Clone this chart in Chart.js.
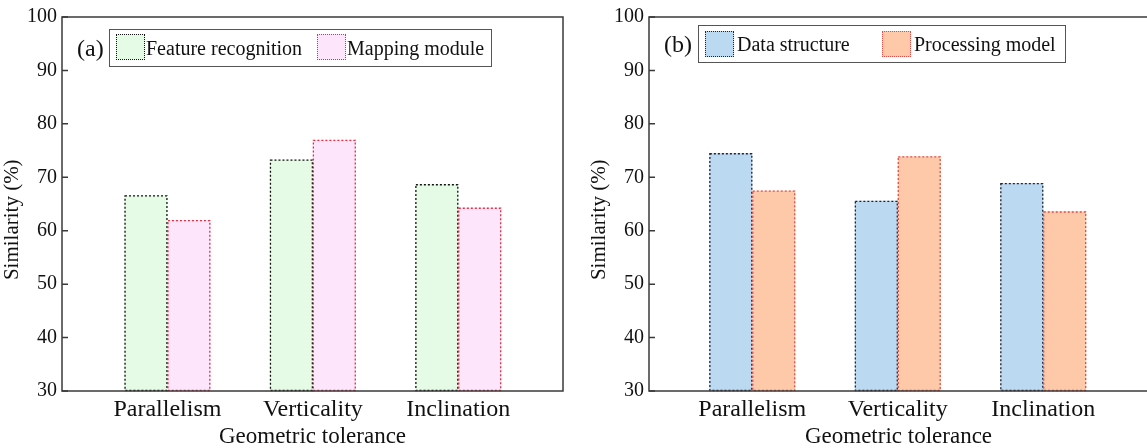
<!DOCTYPE html>
<html>
<head>
<meta charset="utf-8">
<script src="https://cdn.jsdelivr.net/npm/chart.js@4.4.1/dist/chart.umd.min.js"></script>
<style>
  html, body { margin: 0; padding: 0; background: #fff; }
  body { width: 1147px; height: 448px; position: relative; overflow: hidden; font-family: "Liberation Serif", "Times New Roman", serif; }
  canvas { position: absolute; top: 0; }
  #chartA { left: 0; }
  #chartB { left: 587px; }
  .panel { position: absolute; font-size: 24px; color: #111; line-height: 1; }
  .legend { position: absolute; border: 1.5px solid #555; box-sizing: border-box; background: #fff; }
  .swatch { position: absolute; width: 29px; height: 26px; box-sizing: border-box; border: 1.3px dotted; }
  .ltext { position: absolute; font-size: 20px; line-height: 1; color: #111; white-space: nowrap; }
</style>
</head>
<body>
<canvas id="chartA" width="566" height="448"></canvas>
<canvas id="chartB" width="561" height="448"></canvas>

<div class="panel" style="left:77px; top:36px;">(a)</div>
<div class="legend" style="left:109px; top:29px; width:383px; height:38px;"></div>
<div class="swatch" style="left:116px; top:34px; background:#e6fbe6; border-color:#111;"></div>
<div class="ltext" style="left:146px; top:38px;">Feature recognition</div>
<div class="swatch" style="left:317px; top:34px; background:#fde6fb; border-color:#e03040;"></div>
<div class="ltext" style="left:347px; top:38px;">Mapping module</div>

<div class="panel" style="left:664px; top:32px;">(b)</div>
<div class="legend" style="left:698px; top:25px; width:368px; height:38px;"></div>
<div class="swatch" style="left:705px; top:31px; background:#bcd9f2; border-color:#223;"></div>
<div class="ltext" style="left:737px; top:34px;">Data structure</div>
<div class="swatch" style="left:882px; top:31px; background:#fdc9a9; border-color:#e0504a;"></div>
<div class="ltext" style="left:914px; top:34px;">Processing model</div>

<script>
const categories = ['Parallelism', 'Verticality', 'Inclination'];
const featureRecognition = [66.6, 73.3, 68.7];
const mappingModule = [62.0, 77.0, 64.3];
const dataStructure = [74.5, 65.6, 68.9];
const processingModel = [67.5, 73.9, 63.6];
const yTicks = [30, 40, 50, 60, 70, 80, 90, 100];

const FONT = 'Liberation Serif';

// dotted outlines for the bars (Chart.js bars have no borderDash)
const dottedBars = {
    id: 'dottedBars',
    afterDatasetsDraw(chart) {
        const ctx = chart.ctx;
        chart.data.datasets.forEach((ds, i) => {
            const meta = chart.getDatasetMeta(i);
            meta.data.forEach(bar => {
                const { x, y, base, width } = bar.getProps(['x', 'y', 'base', 'width'], true);
                ctx.save();
                ctx.setLineDash([2, 2]);
                ctx.lineWidth = 1.3;
                ctx.strokeStyle = ds.dotColor;
                ctx.strokeRect(x - width / 2 + 0.5, y + 0.5, width - 1, base - y - 1);
                ctx.restore();
            });
        });
    }
};

// box frame + short inward y ticks
const frame = {
    id: 'frame',
    afterDraw(chart) {
        const { ctx, chartArea: a } = chart;
        const ys = chart.scales.y;
        ctx.save();
        ctx.strokeStyle = '#3a3a3a';
        ctx.lineWidth = 1.5;
        ctx.strokeRect(a.left, a.top, a.right - a.left, a.bottom - a.top);
        ctx.beginPath();
        yTicks.forEach(v => {
            const py = ys.getPixelForValue(v);
            ctx.moveTo(a.left, py);
            ctx.lineTo(a.left + 6, py);
        });
        ctx.stroke();
        ctx.restore();
    }
};

function makeChart(id, seriesA, seriesB, colorsA, colorsB, xMin, padRight) {
    const toPoints = vals => vals.map((v, i) => ({ x: i + 1, y: v }));
    return new Chart(document.getElementById(id), {
        type: 'bar',
        data: {
            datasets: [
                {
                    data: toPoints(seriesA),
                    backgroundColor: colorsA[0],
                    dotColor: colorsA[1],
                    borderWidth: 0,
                    base: 30,
                    categoryPercentage: 0.59,
                    barPercentage: 1.0
                },
                {
                    data: toPoints(seriesB),
                    backgroundColor: colorsB[0],
                    dotColor: colorsB[1],
                    borderWidth: 0,
                    base: 30,
                    categoryPercentage: 0.59,
                    barPercentage: 1.0
                }
            ]
        },
        options: {
            responsive: false,
            animation: false,
            devicePixelRatio: 1,
            layout: { padding: { top: 17, right: padRight, left: 0, bottom: 0 } },
            plugins: { legend: { display: false }, tooltip: { enabled: false } },
            scales: {
                x: {
                    type: 'linear',
                    offset: false,
                    min: xMin,
                    max: 3.72,
                    grid: { display: false, drawTicks: false, offset: false },
                    border: { display: false },
                    afterBuildTicks: scale => {
                        scale.ticks = categories.map((c, i) => ({ value: i + 1 }));
                    },
                    afterFit: scale => { scale.height = 57; },
                    ticks: {
                        autoSkip: false,
                        maxRotation: 0,
                        padding: 4,
                        color: '#111',
                        font: { family: FONT, size: 24 },
                        callback: v => categories[Math.round(v) - 1]
                    },
                    title: {
                        display: true,
                        text: 'Geometric tolerance',
                        color: '#111',
                        font: { family: FONT, size: 23 },
                        padding: { top: 0, bottom: -3 }
                    }
                },
                y: {
                    min: 30,
                    max: 100,
                    grid: { display: false, drawTicks: false },
                    border: { display: false },
                    afterFit: scale => { scale.width = 62; },
                    ticks: {
                        stepSize: 10,
                        padding: 5,
                        color: '#111',
                        font: { family: FONT, size: 20 }
                    },
                    title: {
                        display: true,
                        // trailing spaces push the label down like the original
                        text: 'Similarity (%)\u00a0\u00a0\u00a0\u00a0\u00a0\u00a0',
                        color: '#111',
                        font: { family: FONT, size: 21 },
                        padding: { top: 0, bottom: 0 }
                    }
                }
            }
        },
        plugins: [dottedBars, frame]
    });
}

makeChart('chartA', featureRecognition, mappingModule,
    ['#e6fbe6', '#111111'], ['#fde6fb', '#e03040'], 0.275, 3);
makeChart('chartB', dataStructure, processingModel,
    ['#bcd9f2', '#222233'], ['#fdc9a9', '#e0504a'], 0.29, 0);
</script>
</body>
</html>
